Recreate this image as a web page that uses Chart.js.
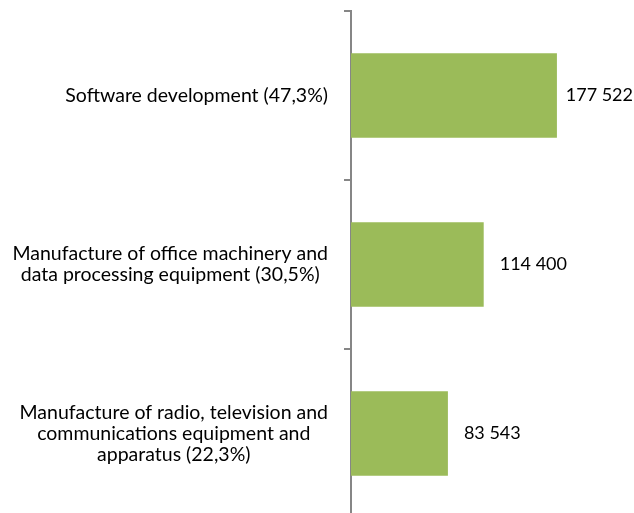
<!DOCTYPE html>
<html>
<head>
<meta charset="utf-8">
<script src="https://cdn.jsdelivr.net/npm/chart.js@4"></script>
<style>
  html, body { margin: 0; padding: 0; overflow: hidden; background: #fff; }
  #wrap { width: 634px; height: 520px; position: relative; }
</style>
</head>
<body>
<div id="wrap"><canvas id="chart"></canvas></div>
<script>
// category labels, one entry per line of the wrapped label
const categories = [
    ["Software development (47,3%)"],
    ["Manufacture of office machinery and", "data processing equipment (30,5%)"],
    ["Manufacture of radio, television and", "communications equipment and", "apparatus (22,3%)"],
];
const values = [177522, 114400, 83543];
const axisMax = 200000;

const barColor = "#9BBB59";
const axisColor = "#868686";
const fontFamily = "Lato, 'Open Sans', sans-serif";

function formatValue(v) {
    return String(v).replace(/\B(?=(\d{3})+(?!\d))/g, " ");
}

// draws the wrapped category labels (centered per line) and the value labels
const labelPlugin = {
    id: "barLabels",
    afterDatasetsDraw(chart) {
        const ctx = chart.ctx;
        const yScale = chart.scales.y;
        const xScale = chart.scales.x;
        const lineH = 21;
        ctx.save();
        ctx.fillStyle = "#000";
        ctx.textBaseline = "middle";

        ctx.font = "19.5px " + fontFamily;
        categories.forEach((lines, i) => {
            const cy = yScale.getPixelForValue(i);
            const blockW = Math.max(...lines.map(l => ctx.measureText(l).width));
            const right = chart.chartArea.left - 23;
            const cx = right - blockW / 2;
            ctx.textAlign = "center";
            lines.forEach((l, j) => {
                ctx.fillText(l, cx, cy + (j - (lines.length - 1) / 2) * lineH);
            });
        });

        ctx.font = "18px " + fontFamily;
        ctx.textAlign = "left";
        values.forEach((v, i) => {
            const txt = formatValue(v);
            const w = ctx.measureText(txt).width;
            let x = xScale.getPixelForValue(v) + 16;
            if (x + w > chart.width - 1) x = chart.width - 1 - w;
            ctx.fillText(txt, x, yScale.getPixelForValue(i));
        });
        ctx.restore();
    }
};

new Chart(document.getElementById("chart"), {
    type: "bar",
    data: {
        labels: categories.map(l => l.join(" ")),
        datasets: [{
            data: values,
            backgroundColor: barColor,
            borderWidth: 0,
            barPercentage: 0.5,
            categoryPercentage: 1.0,
        }],
    },
    options: {
        indexAxis: "y",
        responsive: true,
        maintainAspectRatio: false,
        animation: false,
        layout: {
            padding: { left: 344, right: 51, top: 11, bottom: 2 },
        },
        plugins: {
            legend: { display: false },
            tooltip: { enabled: false },
        },
        scales: {
            x: {
                display: false,
                min: 0,
                max: axisMax,
            },
            y: {
                ticks: { display: false },
                grid: {
                    drawOnChartArea: false,
                    color: axisColor,
                    lineWidth: 2,
                    tickLength: 7,
                    offset: true,
                },
                border: { color: axisColor, width: 2 },
            },
        },
    },
    plugins: [labelPlugin],
});
</script>
</body>
</html>
